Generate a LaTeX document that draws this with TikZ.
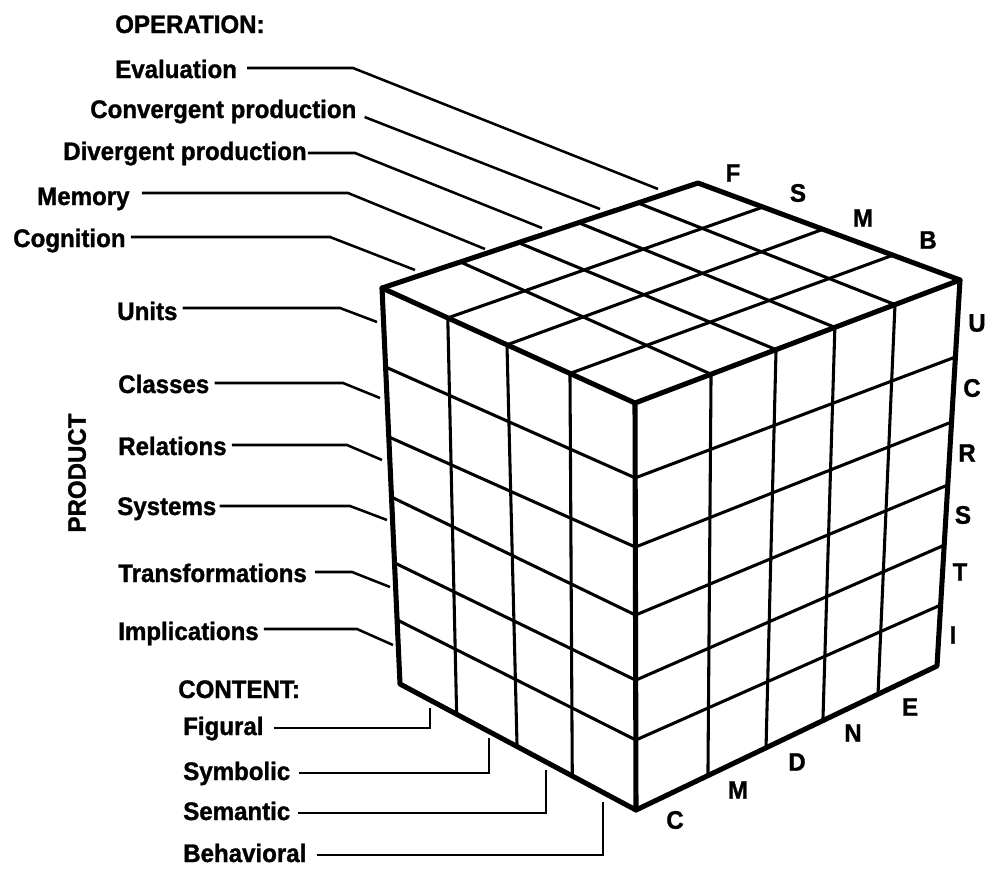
\documentclass[tikz,border=0pt]{standalone}
\usepackage{fontspec}
\setmainfont{Liberation Sans}[BoldFeatures={FakeStretch=0.95,FakeBold=1.2}]
\usetikzlibrary{calc}
\begin{document}
\begin{tikzpicture}[x=0.75pt,y=-0.75pt,
  edge/.style={line width=3.8pt,line join=round,line cap=round},
  cell/.style={line width=2.3pt,line cap=round},
  leader/.style={line width=1.9pt},
  lab/.style={font=\bfseries\fontsize{19}{21}\selectfont,inner sep=0pt}]
\useasboundingbox (0,0) rectangle (990,872);

% cube corners
\coordinate (LT) at (382,288);
\coordinate (FT) at (635,403);
\coordinate (RT) at (960,280);
\coordinate (BK) at (698,183);
\coordinate (LB) at (400,684);
\coordinate (FB) at (636,810);
\coordinate (RB) at (937,666);

% left face: content columns
\foreach \t/\b in {.26/.24,.494/.496,.743/.73}
  \draw[cell] ($(LT)!\t!(FT)$) -- ($(LB)!\b!(FB)$);
% right face: operation columns
\foreach \t/\b in {.234/.239,.434/.432,.615/.621,.80/.804}
  \draw[cell] ($(FT)!\t!(RT)$) -- ($(FB)!\b!(RB)$);
% product rows across both side faces
\foreach \l/\f/\r in {.1995/.184/.1995,.376/.354/.368,.528/.521/.531,.694/.681/.687,.838/.828/.842}
  \draw[cell] ($(LT)!\l!(LB)$) -- ($(FT)!\f!(FB)$) -- ($(RT)!\r!(RB)$);
% top face grid
\foreach \a/\b in {.248/.234,.432/.434,.622/.615,.81/.80}
  \draw[cell] ($(LT)!\a!(BK)$) -- ($(FT)!\b!(RT)$);
\foreach \a/\b in {.26/.248,.494/.477,.743/.744}
  \draw[cell] ($(LT)!\a!(FT)$) -- ($(BK)!\b!(RT)$);

% heavy outline of the cube
\draw[edge] (LT) -- (BK) -- (RT) -- (RB) -- (FB) -- (LB) -- cycle;
\draw[edge] (LT) -- (FT) -- (RT) (FT) -- (FB);

% operation labels
\node[lab,anchor=base west] (opt) at (115,33) {OPERATION:};
\node[lab,anchor=base west] (cp) at (90,118) {Convergent production};
\coordinate (cp-s) at ($(cp.base east)+(8,-1)$);
\coordinate (cp-e) at (600,209);
\draw[leader] (cp-s) -- (cp-e);

% labels with a horizontal run then a slanted run to the cube
\foreach \nm/\txt/\px/\py/\g/\r/\bx/\ex/\ey in {
  ev/Evaluation/115/78/10/10/353/658/189,
  dp/Divergent production/63/160/1/7/355/542/228,
  me/Memory/37/205/12/12/348/485/249,
  co/Cognition/13/247/5/10/330/415/270,
  un/Units/117/320/5/12/340/377/322,
  cl/Classes/118/393/5/10/343/380/398,
  re/Relations/118/455/5/10/347/382/460,
  sy/Systems/117/515/3/9/350/387/520,
  tr/Transformations/118/582/8/10/352/390/587,
  im/Implications/118/640/5/11/357/393/645}{
  \node[lab,anchor=base west] (\nm) at (\px,\py) {\txt};
  \coordinate (\nm-s) at ($(\nm.base east)+(\g,-\r)$);
  \coordinate (\nm-b) at (\bx,0);
  \coordinate (\nm-e) at (\ex,\ey);
  \draw[leader] (\nm-s) -- (\nm-s -| \nm-b) -- (\nm-e);
}

\node[lab,rotate=90] (prod) at (77,473) {PRODUCT};

% content labels
\node[lab,anchor=base west] (cnt) at (178,698) {CONTENT:};
\foreach \nm/\txt/\py/\g/\ex/\ey in {
  fi/Figural/735/10/430/708,
  sb/Symbolic/780/8/489/738,
  se/Semantic/820/7/546/770,
  be/Behavioral/862/10/603/802}{
  \node[lab,anchor=base west] (\nm) at (183,\py) {\txt};
  \coordinate (\nm-s) at ($(\nm.base east)+(\g,-7)$);
  \coordinate (\nm-e) at (\ex,\ey);
  \draw[leader] (\nm-s) -- (\nm-s -| \nm-e) -- (\nm-e);
}

% letters along the cube edges
\foreach \nm/\l/\px/\py in {
  tF/F/733/173, tS/S/798/193, tM/M/863/218, tB/B/928/240,
  rU/U/977/323, rC/C/972/388, rR/R/967/453, rS/S/963/515, rT/T/960/572, rI/I/953/635,
  bC/C/675/820, bM/M/738/790, bD/D/797/762, bN/N/853/733, bE/E/910/707}
  \node[lab] (\nm) at (\px,\py) {\l};
\end{tikzpicture}
\end{document}
